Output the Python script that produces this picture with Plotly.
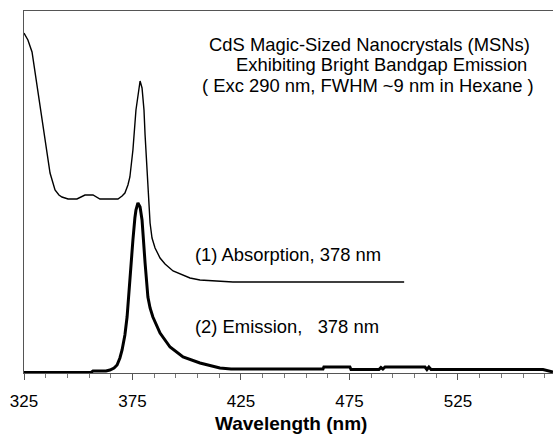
import plotly.graph_objects as go

# Absorption spectrum (arbitrary units)
abs_wavelength = [325, 326.8, 328.7, 330.5, 332.4, 334.7, 337.0, 339.3, 341.1, 342.5, 345.3, 349.4,
                  351.7, 353.1, 356.8, 358.6, 360.0, 368.3, 370.2, 371.5, 372.9, 373.8, 375.2, 376.6,
                  377.5, 378.5, 379.4, 380.3, 380.8, 381.7, 382.1, 382.6, 383.1, 384.0, 385.4, 387.7,
                  390.0, 393.7, 397.8, 401.5, 406.1, 416.7, 421.3, 452.0, 500.2]
abs_signal = [340, 333, 321, 295, 266, 233, 200, 183, 178, 176, 174, 174,
              176, 178, 178, 176, 174, 174, 177, 180, 188, 196, 223, 263,
              278, 292, 285, 263, 238, 203, 181, 163, 150, 135, 125, 115,
              109, 102, 98, 95, 93, 92, 91, 91, 91]

# Emission spectrum (arbitrary units)
em_wavelength = [325, 355.9, 356.8, 362.8, 364.6, 366.5, 367.9, 369.2, 370.2, 371.5, 372.5, 373.8,
                 375.2, 376.1, 376.6, 377.5, 378.5, 379.4, 379.8, 380.8, 382.1, 383.1, 384.4, 387.7,
                 392.3, 398.3, 406.1, 415.3, 420.4, 462.8, 463.2, 475.2, 475.7, 488.6, 489.5, 490.4,
                 491.4, 509.8, 510.7, 511.6, 512.6, 564.2, 568.8]
em_signal = [0.5, 0.5, 2, 2, 3, 5, 8, 15, 23, 38, 56, 96,
             133, 155, 163, 170, 166, 153, 143, 110, 76, 65, 56, 40,
             26, 16, 10, 5, 4, 4, 6, 6, 3.5, 3.5, 5.5, 4,
             6, 6, 3.5, 6, 3.5, 3.5, 1]

tick_vals = [325, 375, 425, 475, 525]
tick_text = ["325", "375", "425", "475", "525"]

FONT = "Liberation Sans, Arial, sans-serif"

fig = go.Figure()
fig.add_trace(go.Scatter(x=abs_wavelength, y=abs_signal, mode="lines",
                         line=dict(color="black", width=1.4), showlegend=False))
fig.add_trace(go.Scatter(x=em_wavelength, y=em_signal, mode="lines",
                         line=dict(color="black", width=3), showlegend=False))

fig.update_layout(
    width=553, height=435,
    margin=dict(l=24, r=0, t=11, b=62),
    plot_bgcolor="white", paper_bgcolor="white",
    font=dict(family=FONT, color="black"),
    xaxis=dict(range=[325, 568.8], showgrid=False, zeroline=False,
               showline=True, linecolor="#555", linewidth=1, mirror=True,
               tickmode="array", tickvals=tick_vals, ticktext=tick_text,
               ticks="outside", ticklen=6, tickcolor="#555", tickwidth=1,
               tickfont=dict(size=17, family=FONT, color="black"),
               ticklabelstandoff=7,
               minor=dict(dtick=10, tick0=325, ticks="outside", ticklen=4,
                          tickcolor="#777", tickwidth=1, showgrid=False)),
    yaxis=dict(range=[0, 362], showgrid=False, zeroline=False,
               showline=True, linecolor="#555", linewidth=1,
               showticklabels=False, ticks=""),
)

ann = [
    ("CdS Magic-Sized Nanocrystals (MSNs)", 369, 44.5, "center"),
    ("Exhibiting Bright Bandgap Emission", 381, 65, "center"),
    ("( Exc 290 nm, FWHM ~9 nm in Hexane )", 368, 85.5, "center"),
    ("(1) Absorption, 378 nm", 193, 254, "left"),
    ("(2) Emission,\u00a0\u00a0 378 nm", 193, 326, "left"),
]
for text, px, py, anchor in ann:
    fig.add_annotation(text=text, xref="paper", yref="paper",
                       x=(px - 24) / 529, y=(373 - py) / 362,
                       xanchor=anchor, yanchor="middle", showarrow=False,
                       font=dict(size=18.4, family=FONT, color="black"))

fig.add_annotation(text="<b>Wavelength (nm)</b>", xref="paper", yref="paper",
                   x=(291 - 24) / 529, y=(373 - 423) / 362, xanchor="center",
                   yanchor="middle", showarrow=False,
                   font=dict(size=19, family=FONT, color="black"))

fig.write_html("out.html")
